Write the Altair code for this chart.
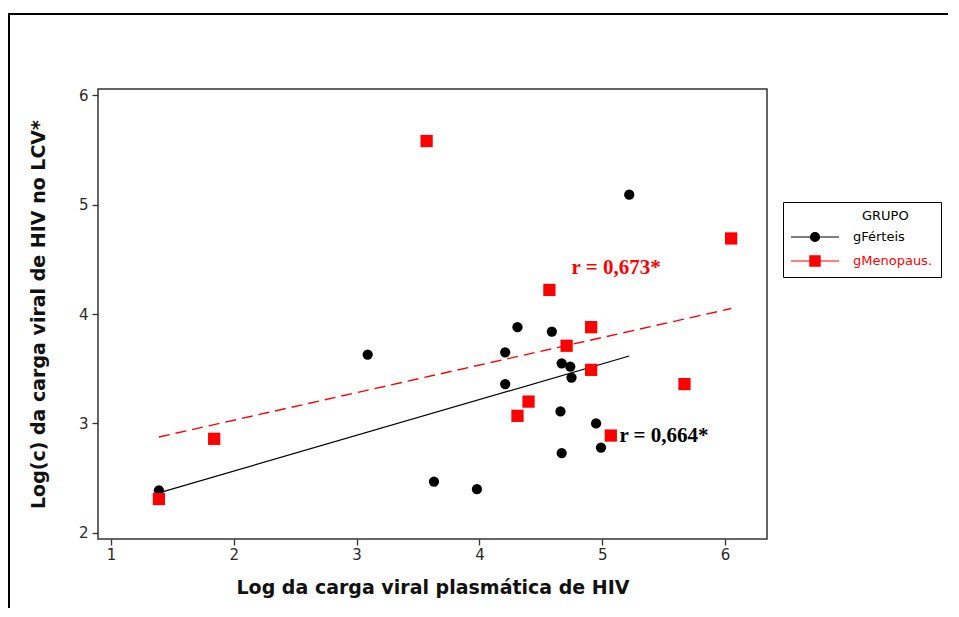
import altair as alt
import pandas as pd

# ---- data ----
fert_x = [1.39, 3.09, 3.63, 3.98, 4.21, 4.21, 4.31, 4.59, 4.67, 4.74, 4.75, 4.66, 4.67, 4.95, 4.99, 5.22]
fert_y = [2.39, 3.63, 2.47, 2.40, 3.65, 3.36, 3.88, 3.84, 3.55, 3.52, 3.42, 3.11, 2.73, 3.00, 2.78, 5.09]
meno_x = [1.39, 1.84, 3.57, 4.57, 4.91, 4.71, 4.91, 4.40, 4.31, 5.07, 5.67, 6.05]
meno_y = [2.31, 2.86, 5.58, 4.22, 3.88, 3.71, 3.49, 3.20, 3.07, 2.89, 3.36, 4.69]

groups = ["gFérteis", "gMenopaus."]
colors = ["#000000", "#ff0000"]
legend_title = "GRUPO"

ann_text = ["r = 0,673*", "r = 0,664*"]
ann_x = [4.75, 5.14]
ann_y = [4.42, 2.89]
ann_color = ["#ff0000", "#000000"]

x_ticks = [1, 2, 3, 4, 5, 6]
y_ticks = [2, 3, 4, 5, 6]
x_domain = [0.894, 6.342]
y_domain = [1.945, 6.055]

x_title = "Log da carga viral plasmática de HIV"
y_title = "Log(c) da carga viral de HIV no LCV*"

# ---- tables ----
df = pd.DataFrame({
    "x": fert_x + meno_x,
    "y": fert_y + meno_y,
    "grupo": [groups[0]] * len(fert_x) + [groups[1]] * len(meno_x),
})
ann = pd.DataFrame({"t": ann_text, "x": ann_x, "y": ann_y, "c": ann_color})

xs = alt.Scale(domain=x_domain, nice=False, zero=False)
ys = alt.Scale(domain=y_domain, nice=False, zero=False)

xax = alt.Axis(values=x_ticks, format="d", title=x_title, grid=False, domain=False,
               tickColor="#333333", tickSize=6, tickWidth=1.3,
               labelFont="DejaVu Sans", labelFontSize=15, labelColor="#2a2a2a", labelPadding=2,
               titleFont="DejaVu Sans", titleFontSize=19, titleFontWeight="bold",
               titleColor="#111111", titlePadding=16)
yax = alt.Axis(values=y_ticks, format="d", title=y_title, grid=False, domain=False,
               tickColor="#333333", tickSize=6, tickWidth=1.3,
               labelFont="DejaVu Sans", labelFontSize=15, labelColor="#2a2a2a", labelPadding=4,
               titleFont="DejaVu Sans", titleFontSize=19, titleFontWeight="bold",
               titleColor="#111111", titlePadding=30)

circ_path = "M-4,0L4,0M0.75,0A0.75,0.75,0,1,1,-0.75,0A0.75,0.75,0,1,1,0.75,0Z"
sq_path = "M-4,0L4,0M-0.85,-0.85L0.85,-0.85L0.85,0.85L-0.85,0.85Z"
is_f = f"datum.value === '{groups[0]}'"

legend = alt.Legend(
    title=legend_title, titleAnchor="middle", titleAlign="left",
    orient="none", legendX=685, legendY=113,
    padding=8, strokeColor="#000000", fillColor="#ffffff",
    symbolSize=144, symbolOffset=17, labelOffset=31, rowPadding=9, titlePadding=7,
    symbolType={"expr": f"{is_f} ? '{circ_path}' : '{sq_path}'"},
    symbolStrokeColor={"expr": f"{is_f} ? '#000000' : '#ff0000'"},
    symbolStrokeWidth=1.2, symbolOpacity=1,
    labelColor={"expr": f"{is_f} ? '#000000' : '#ff0000'"},
    labelFont="DejaVu Sans", labelFontSize=13,
    titleFont="DejaVu Sans", titleFontSize=13, titleFontWeight="normal", titleColor="#000000",
)

color = alt.Color("grupo:N", scale=alt.Scale(domain=groups, range=colors), legend=legend)

base = alt.Chart(df)

frame = alt.Chart(pd.DataFrame({"a": [0]})).mark_rect(
    fill="transparent", stroke="#000000", strokeWidth=2
).encode(x=alt.value(-89), x2=alt.value(900), y=alt.value(-75), y2=alt.value(600))

line_f = base.transform_filter(alt.datum.grupo == groups[0]).transform_regression(
    "x", "y").mark_line(color="#000000", strokeWidth=1.2).encode(
    x=alt.X("x:Q", scale=xs, axis=xax), y=alt.Y("y:Q", scale=ys, axis=yax))

line_m = base.transform_filter(alt.datum.grupo == groups[1]).transform_regression(
    "x", "y").mark_line(color="#ff0000", strokeWidth=1.4, strokeDash=[11, 6]).encode(
    x=alt.X("x:Q", scale=xs, axis=xax), y=alt.Y("y:Q", scale=ys, axis=yax))

circles = base.transform_filter(alt.datum.grupo == groups[0]).mark_circle(
    size=105, opacity=1).encode(
    x=alt.X("x:Q", scale=xs, axis=xax), y=alt.Y("y:Q", scale=ys, axis=yax), color=color)

squares = base.transform_filter(alt.datum.grupo == groups[1]).mark_square(
    size=150, opacity=1).encode(
    x=alt.X("x:Q", scale=xs, axis=xax), y=alt.Y("y:Q", scale=ys, axis=yax), color=color)

texts = alt.Chart(ann).mark_text(
    font="Liberation Serif", fontWeight="bold", fontSize=21, align="left", baseline="middle"
).encode(x=alt.X("x:Q", scale=xs, axis=xax), y=alt.Y("y:Q", scale=ys, axis=yax),
         text="t:N", color=alt.Color("c:N", scale=None))

chart = alt.layer(frame, line_f, line_m, circles, squares, texts).properties(
    width=669, height=450,
    autosize=alt.AutoSizeParams(type="none"),
    padding={"left": 90, "top": 81, "right": 181, "bottom": 69},
).configure_view(stroke="#333333", strokeWidth=1.5)

chart.save("out.html", embed_options={"renderer": "svg", "actions": False})
